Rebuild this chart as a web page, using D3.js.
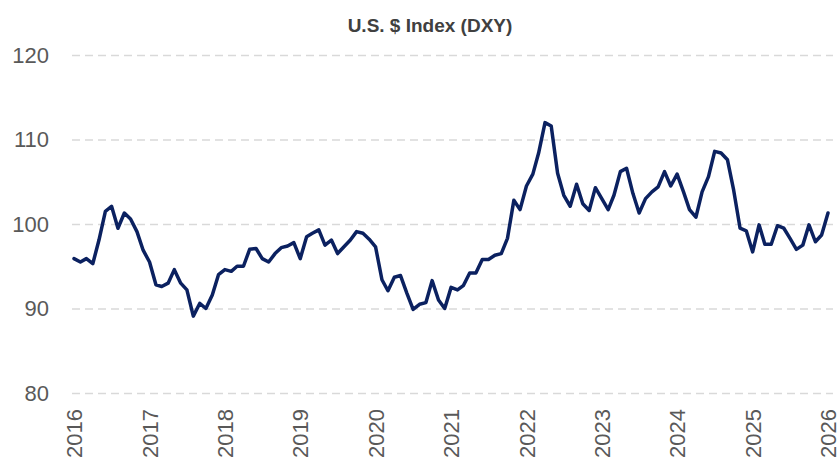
<!doctype html>
<html lang="en">
  <head>
    <meta charset="UTF-8" />
    <title>U.S. $ Index (DXY)</title>
    <script src="https://d3js.org/d3.v7.min.js"></script>
    <style>
      body {
        margin: 0;
        padding: 0;
        background: #fff;
        font-family: "Liberation Sans", Arial, sans-serif;
      }
      svg {
        display: block;
      }
    </style>
  </head>
  <body>
    <script>
      // monthly DXY readings, Jan of each year first
      const dxy2016 = [95.9, 95.5, 95.9, 95.3, 98.1, 101.5, 102.1, 99.5, 101.3, 100.6, 99.1, 96.9];
      const dxy2017 = [95.5, 92.8, 92.6, 93.0, 94.6, 93.0, 92.2, 89.1, 90.6, 90.0, 91.6, 94.0];
      const dxy2018 = [94.6, 94.4, 95.0, 95.0, 97.0, 97.1, 95.9, 95.5, 96.5, 97.2, 97.4, 97.8];
      const dxy2019 = [95.9, 98.5, 98.9, 99.3, 97.5, 98.1, 96.5, 97.3, 98.1, 99.1, 98.9, 98.2];
      const dxy2020 = [97.3, 93.4, 92.1, 93.7, 93.9, 91.8, 89.9, 90.5, 90.7, 93.3, 91.0, 90.0];
      const dxy2021 = [92.5, 92.2, 92.7, 94.2, 94.2, 95.8, 95.8, 96.3, 96.5, 98.3, 102.8, 101.7];
      const dxy2022 = [104.5, 105.9, 108.4, 112.0, 111.6, 106.0, 103.4, 102.1, 104.7, 102.4, 101.6, 104.3];
      const dxy2023 = [103.0, 101.7, 103.4, 106.2, 106.6, 103.6, 101.3, 103.0, 103.8, 104.4, 106.2, 104.5];
      const dxy2024 = [105.9, 103.8, 101.7, 100.8, 103.8, 105.6, 108.6, 108.4, 107.6, 104.0, 99.5, 99.2];
      const dxy2025 = [96.7, 99.9, 97.6, 97.6, 99.8, 99.5, 98.3, 97.0, 97.5, 99.9, 97.9, 98.7];
      const dxy2026 = [101.3];

      const yTicks = [80, 90, 100, 110, 120];
      const yearTicks = ["2016", "2017", "2018", "2019", "2020", "2021", "2022", "2023", "2024", "2025", "2026"];

      const values = [].concat(dxy2016, dxy2017, dxy2018, dxy2019, dxy2020, dxy2021, dxy2022, dxy2023, dxy2024, dxy2025, dxy2026);
      const start = new Date(2016, 0, 1);
      const data = values.map((v, i) => ({ date: d3.timeMonth.offset(start, i), value: v }));

      const width = 840;
      const height = 460;
      const left = 72;
      const right = 833;

      const x = d3.scaleTime().domain([new Date(2016, 0, 1), new Date(2026, 0, 1)]).range([74, 828]);
      const y = d3.scaleLinear().domain([80, 120]).range([393, 55]);

      const svg = d3.select("body").append("svg").attr("width", width).attr("height", height);

      svg
        .append("text")
        .attr("x", 430)
        .attr("y", 32)
        .attr("text-anchor", "middle")
        .attr("fill", "#404040")
        .style("font-size", "19px")
        .style("font-weight", "bold")
        .text("U.S. $ Index (DXY)");

      // y axis + dashed grid
      const yAxis = svg
        .append("g")
        .attr("transform", `translate(${left},0)`)
        .call(d3.axisLeft(y).tickValues(yTicks).tickSize(-(right - left)).tickPadding(23));
      yAxis.select(".domain").remove();
      yAxis.selectAll(".tick line").attr("stroke", "#d9d9d9").attr("stroke-width", 1.5).attr("stroke-dasharray", "8,5");
      yAxis.selectAll(".tick text").attr("fill", "#595959").style("font-size", "22px").style("font-family", "'Liberation Sans', Arial, sans-serif");

      // x axis, vertical year labels
      const xAxis = svg
        .append("g")
        .call(
          d3
            .axisBottom(x)
            .tickValues(yearTicks.map((t) => new Date(+t, 0, 1)))
            .tickFormat(d3.timeFormat("%Y"))
            .tickSize(0)
        );
      xAxis.select(".domain").remove();
      xAxis
        .selectAll(".tick text")
        .attr("transform", "rotate(-90)")
        .attr("x", -409)
        .attr("y", 0)
        .attr("dy", "0.35em")
        .attr("text-anchor", "end")
        .attr("fill", "#595959")
        .style("font-size", "22px")
        .style("font-family", "'Liberation Sans', Arial, sans-serif");

      const line = d3
        .line()
        .x((d) => x(d.date))
        .y((d) => y(d.value));

      svg
        .append("path")
        .datum(data)
        .attr("fill", "none")
        .attr("stroke", "#0b2160")
        .attr("stroke-width", 3.5)
        .attr("stroke-linejoin", "round")
        .attr("stroke-linecap", "round")
        .attr("d", line);
    </script>
  </body>
</html>
